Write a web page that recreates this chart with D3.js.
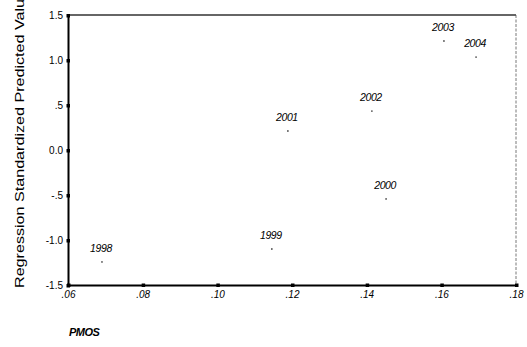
<!DOCTYPE html>
<html>
<head>
<meta charset="utf-8">
<script src="https://cdn.jsdelivr.net/npm/d3@7"></script>
<style>
  body { margin: 0; background: #fff; }
  svg { display: block; font-family: "Liberation Sans", Arial, sans-serif; }
</style>
</head>
<body>
<svg id="chart" width="527" height="347"></svg>
<script>
// data
var years = ["1998", "1999", "2000", "2001", "2002", "2003", "2004"];
var pmos = [0.0691, 0.1146, 0.1452, 0.1189, 0.1414, 0.1607, 0.1693];
var predicted = [-1.244, -1.10, -0.544, 0.211, 0.433, 1.211, 1.033];
var xTicks = [0.06, 0.08, 0.10, 0.12, 0.14, 0.16, 0.18];
var xTickLabels = [".06", ".08", ".10", ".12", ".14", ".16", ".18"];
var yTicks = [1.5, 1.0, 0.5, 0.0, -0.5, -1.0, -1.5];
var yTickLabels = ["1.5", "1.0", ".5", "0.0", "-.5", "-1.0", "-1.5"];

var svg = d3.select("#chart");
var pLeft = 68, pRight = 516, pTop = 15, pBottom = 285;

var x = d3.scaleLinear().domain([0.06, 0.18]).range([pLeft, pRight]);
var y = d3.scaleLinear().domain([-1.5, 1.5]).range([pBottom, pTop]);

// frame: top thin, right dashed, left/bottom heavy
svg.append("line")
  .attr("x1", pLeft).attr("x2", pRight)
  .attr("y1", pTop).attr("y2", pTop)
  .attr("stroke", "#333").attr("stroke-width", 1.3);
svg.append("line")
  .attr("x1", pRight).attr("x2", pRight)
  .attr("y1", pTop).attr("y2", pBottom)
  .attr("stroke", "#555").attr("stroke-width", 0.8)
  .attr("stroke-dasharray", "3,1.5");

var xAxis = d3.axisBottom(x).tickValues(xTicks)
  .tickSize(0).tickPadding(6)
  .tickFormat(function(d, i){ return xTickLabels[i]; });
var gx = svg.append("g")
  .attr("transform", "translate(0," + pBottom + ")")
  .call(xAxis);
gx.select(".domain").attr("stroke", "#000").attr("stroke-width", 2);
gx.selectAll("text")
  .attr("fill", "#000")
  .style("font-size", "10px")
  .style("font-style", "italic");

var yAxis = d3.axisLeft(y).tickValues(yTicks)
  .tickSize(0).tickPadding(5)
  .tickFormat(function(d, i){ return yTickLabels[i]; });
var gy = svg.append("g")
  .attr("transform", "translate(" + pLeft + ",0)")
  .call(yAxis);
gy.select(".domain").attr("stroke", "#000").attr("stroke-width", 2);
gy.selectAll("text")
  .attr("fill", "#000")
  .style("font-size", "10px");

// tick dots on axes
gx.selectAll(".tick").append("rect")
  .attr("x", -1.5).attr("y", -1.5)
  .attr("width", 3.5).attr("height", 3.5)
  .attr("fill", "#000");
gy.selectAll(".tick").append("rect")
  .attr("x", -1.5).attr("y", -1.5)
  .attr("width", 3.5).attr("height", 3.5)
  .attr("fill", "#000");

// points and year labels
var pts = svg.append("g");
pts.selectAll("circle")
  .data(years)
  .enter().append("circle")
  .attr("cx", function(d, i){ return x(pmos[i]); })
  .attr("cy", function(d, i){ return y(predicted[i]); })
  .attr("r", 0.9)
  .attr("fill", "#555");
pts.selectAll("text")
  .data(years)
  .enter().append("text")
  .attr("x", function(d, i){ return x(pmos[i]) - 1; })
  .attr("y", function(d, i){ return y(predicted[i]) - 10; })
  .attr("text-anchor", "middle")
  .style("font-size", "10.5px")
  .style("font-style", "italic")
  .style("letter-spacing", "-0.4px")
  .text(function(d){ return d; });

// axis titles
svg.append("text")
  .attr("transform", "translate(24,288) rotate(-90)")
  .attr("text-anchor", "start")
  .attr("textLength", 298)
  .attr("lengthAdjust", "spacingAndGlyphs")
  .style("font-size", "13px")
  .text("Regression Standardized Predicted Value");

svg.append("text")
  .attr("x", 69).attr("y", 336)
  .style("font-size", "11px")
  .style("font-style", "italic")
  .style("font-weight", "bold")
  .style("letter-spacing", "-0.5px")
  .text("PMOS");
</script>
</body>
</html>
